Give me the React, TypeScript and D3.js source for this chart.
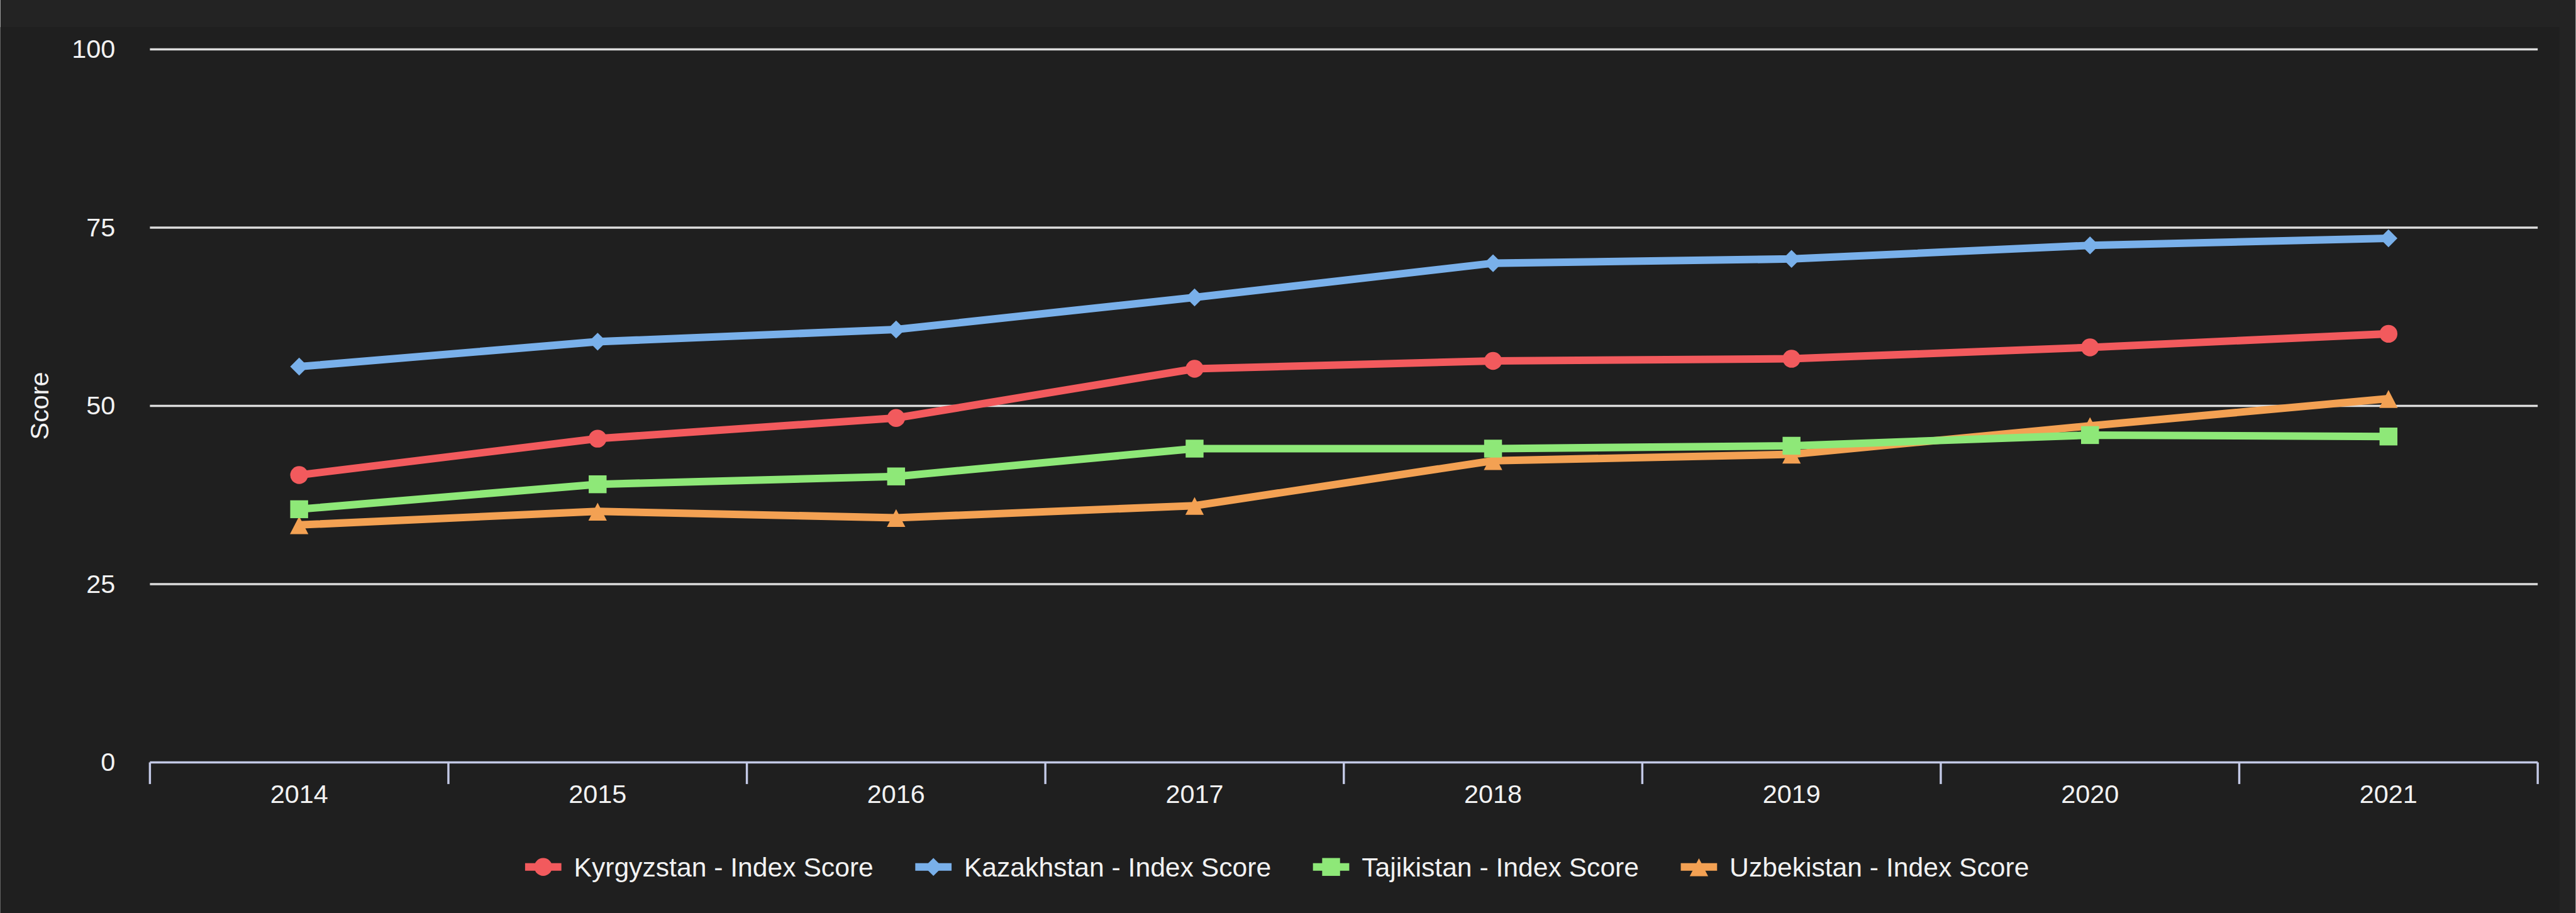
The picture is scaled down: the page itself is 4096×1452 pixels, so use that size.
import React, { useMemo } from 'react'
import * as d3 from 'd3'

// values
const years = ['2014', '2015', '2016', '2017', '2018', '2019', '2020', '2021']
const kyrgyzstan = [40.3, 45.4, 48.3, 55.2, 56.3, 56.6, 58.2, 60.1]
const kazakhstan = [55.5, 59.0, 60.7, 65.2, 70.0, 70.6, 72.5, 73.5]
const tajikistan = [35.5, 39.0, 40.1, 44.0, 44.0, 44.4, 45.9, 45.7]
const uzbekistan = [33.3, 35.2, 34.3, 36.0, 42.3, 43.2, 47.2, 51.0]
const yTicks = [0, 25, 50, 75, 100]
const seriesNames = [
  'Kyrgyzstan - Index Score',
  'Kazakhstan - Index Score',
  'Tajikistan - Index Score',
  'Uzbekistan - Index Score',
]
const seriesColors = ['#f25a5d', '#79b0ea', '#8ee878', '#f3a153']
const seriesShapes = ['circle', 'diamond', 'square', 'triangle']
const seriesValues = [kyrgyzstan, kazakhstan, tajikistan, uzbekistan]

// reference-size layout (the svg viewBox scales it to the window)
const W = 4752
const H = 1685
const plot = { left: 276, right: 4682, top: 91, bottom: 1407 }
const FONT = "'Liberation Sans', Arial, Helvetica, sans-serif"
const FS = 48
const LEGEND_FS = 49.5

const markerPath = (shape: string) => {
  const r = 16.5
  switch (shape) {
    case 'circle':
      return `M${-r},0A${r},${r} 0 1,0 ${r},0A${r},${r} 0 1,0 ${-r},0Z`
    case 'diamond':
      return `M0,${-r}L${r},0L0,${r}L${-r},0Z`
    case 'square':
      return `M${-r},${-r}H${r}V${r}H${-r}Z`
    default:
      return `M0,-16L17,17L-17,17Z`
  }
}

const measure = (txt: string) => {
  const ctx = document.createElement('canvas').getContext('2d')
  if (!ctx) return txt.length * LEGEND_FS * 0.5
  ctx.font = `${LEGEND_FS}px ${FONT}`
  return ctx.measureText(txt).width
}

const App = () => {
  const x = d3.scaleBand<string>().domain(years).range([plot.left, plot.right]).padding(0)
  const y = d3.scaleLinear().domain([0, 100]).range([plot.bottom, plot.top])

  const line = d3
    .line<number>()
    .x((d, i) => (x(years[i]) as number) + x.bandwidth() / 2)
    .y((d) => y(d))

  const legend = useMemo(() => {
    const lineW = 67
    const textGap = 23
    const itemGap = 77
    const widths = seriesNames.map(measure)
    const total = widths.reduce((a, b) => a + b, 0) + seriesNames.length * (lineW + textGap) + (seriesNames.length - 1) * itemGap
    let cx = 2356 - total / 2
    return seriesNames.map((name, i) => {
      const item = { name, x0: cx, lineW, textX: cx + lineW + textGap }
      cx += lineW + textGap + widths[i] + itemGap
      return item
    })
  }, [])

  const ticksX = [...years.map((yr) => x(yr) as number), plot.right]
  const order = [3, 2, 1, 0]

  return (
    <svg
      width={4096}
      height={1452}
      viewBox={`0 0 ${W} ${H}`}
      style={{ position: 'absolute', left: 0, top: 0, display: 'block' }}
      fontFamily={FONT}
    >
      <rect x={0} y={0} width={W} height={H} fill="#232323" />
      <rect x={0} y={50} width={4722} height={H - 50} fill="#1f1f1f" />

      {/* grid */}
      {yTicks.filter((t) => t > 0).map((t) => (
        <line key={t} x1={plot.left} x2={plot.right} y1={y(t)} y2={y(t)} stroke="#dcdcdc" strokeWidth={4} />
      ))}
      {yTicks.map((t) => (
        <text key={t} x={212} y={y(t)} fill="#f2f2f2" fontSize={FS} textAnchor="end" dominantBaseline="central">
          {t}
        </text>
      ))}
      <text
        transform={`translate(72,${(plot.top + plot.bottom) / 2}) rotate(-90)`}
        fill="#f2f2f2"
        fontSize={FS}
        textAnchor="middle"
        dominantBaseline="central"
      >
        Score
      </text>

      {/* x axis */}
      <line x1={plot.left} x2={plot.right} y1={plot.bottom} y2={plot.bottom} stroke="#c3c9e6" strokeWidth={4} />
      {ticksX.map((tx, i) => (
        <line key={i} x1={tx} x2={tx} y1={plot.bottom} y2={plot.bottom + 40} stroke="#c3c9e6" strokeWidth={4} />
      ))}
      {years.map((yr) => (
        <text
          key={yr}
          x={(x(yr) as number) + x.bandwidth() / 2}
          y={1466}
          fill="#f2f2f2"
          fontSize={FS}
          textAnchor="middle"
          dominantBaseline="central"
        >
          {yr}
        </text>
      ))}

      {/* series */}
      {order.map((si) => (
        <g key={si}>
          <path d={line(seriesValues[si]) || ''} fill="none" stroke={seriesColors[si]} strokeWidth={14} strokeLinejoin="round" />
          {seriesValues[si].map((v, i) => (
            <path
              key={i}
              d={markerPath(seriesShapes[si])}
              transform={`translate(${(x(years[i]) as number) + x.bandwidth() / 2},${y(v)})`}
              fill={seriesColors[si]}
            />
          ))}
        </g>
      ))}

      {/* legend */}
      {legend.map((it, i) => (
        <g key={it.name}>
          <rect x={it.x0} y={1600 - 7} width={it.lineW} height={14} fill={seriesColors[i]} />
          <path d={markerPath(seriesShapes[i])} transform={`translate(${it.x0 + it.lineW / 2},1600)`} fill={seriesColors[i]} />
          <text x={it.textX} y={1600} fill="#f2f2f2" fontSize={LEGEND_FS} dominantBaseline="central">
            {it.name}
          </text>
        </g>
      ))}
    </svg>
  )
}

export default App
